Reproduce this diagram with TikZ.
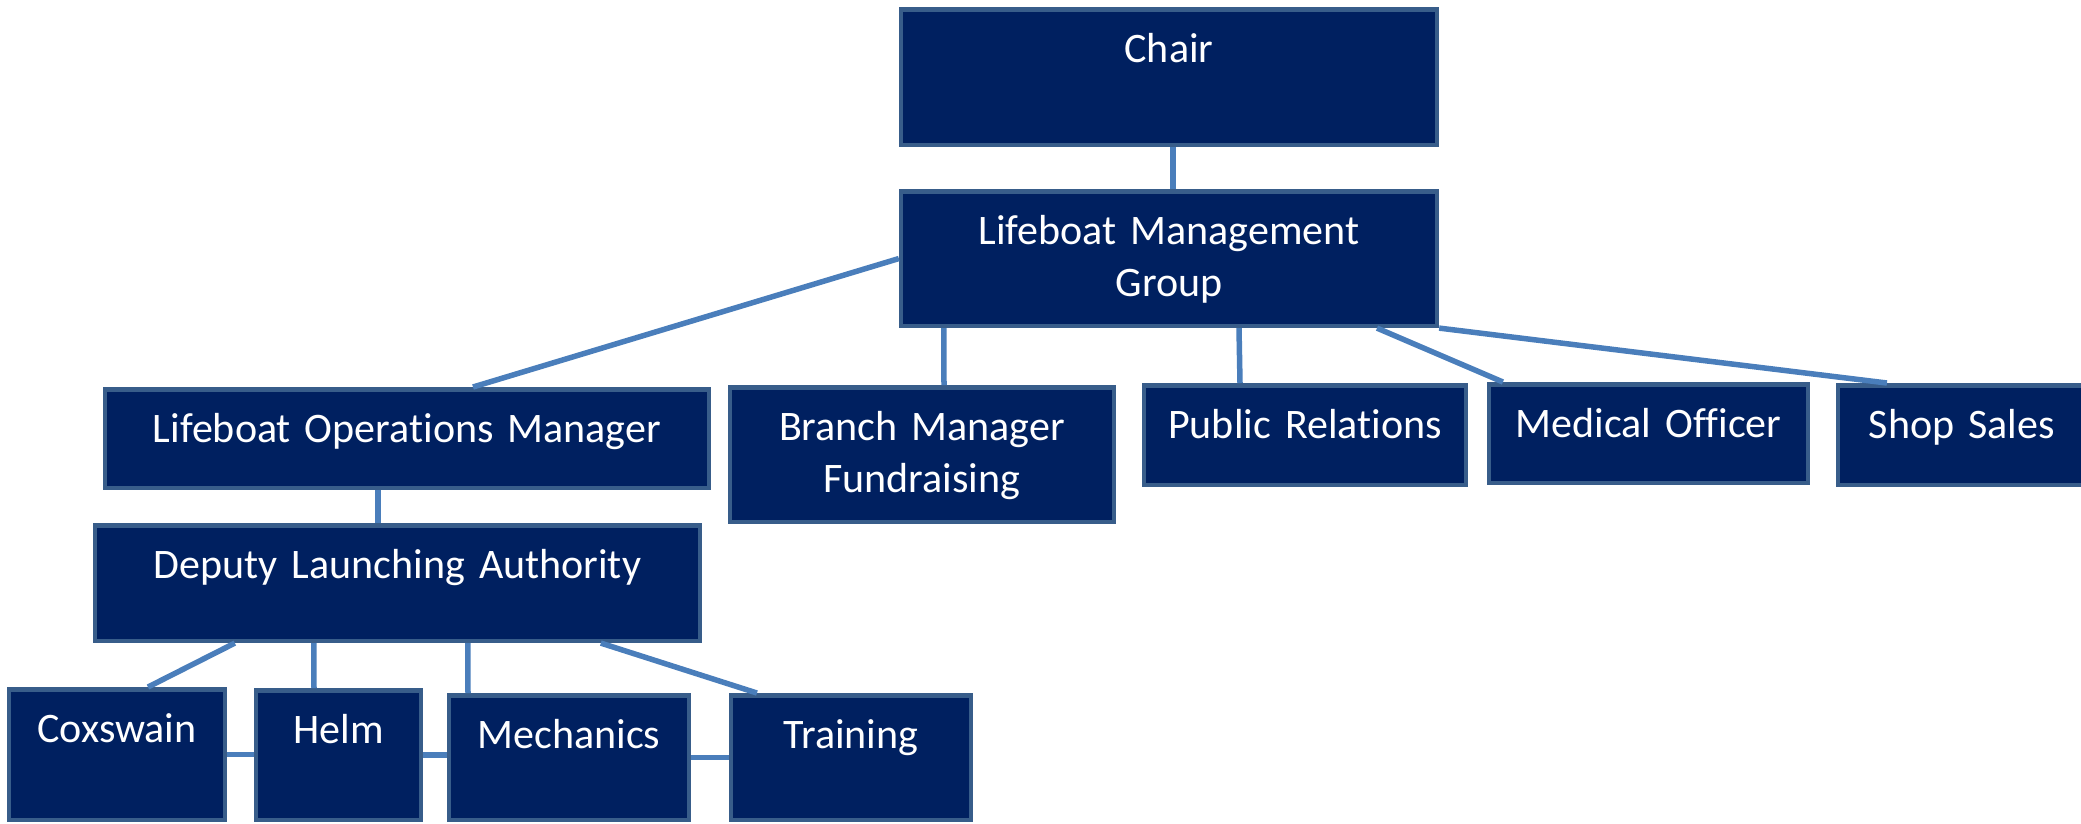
\documentclass[tikz,border=0pt]{standalone}
\usepackage{fontspec}
\setmainfont{Carlito}[Ligatures=NoCommon]
\usetikzlibrary{calc}
\definecolor{unitfill}{RGB}{0,32,96}
\definecolor{unitedge}{RGB}{56,93,138}
\definecolor{linkblue}{RGB}{74,126,187}
\tikzset{
	unit/.style 2 args={draw=unitedge, line width=0.45mm, fill=unitfill, text=white,
		anchor=north, inner sep=0pt, align=center, text width=#1cm,
		text height=0.5275cm, text depth=#2cm,
		font=\fontsize{11.95pt}{14.8pt}\selectfont},
	link/.style={draw=linkblue, line width=0.55mm}
}

\begin{document}
\begin{tikzpicture}[x=0.01cm, y=-0.01cm]
			%%%%% START %%%%%
			\useasboundingbox (0, 0) rectangle (2081, 823);
			
			\node[unit={5.355}{0.8275}] (chair) at (1169, 7) {Chair};
			\node[unit={5.355}{0.8175}] (lmg) at (1169, 189) {Lifeboat Management\\Group};
			
			\node[unit={6.035}{0.4575}] (lom) at (407, 387) {Lifeboat Operations Manager};
			\node[unit={3.835}{0.8175}] (bmf) at (922, 385) {Branch Manager\\Fundraising};
			\node[unit={3.215}{0.4675}] (pr) at (1305, 383) {Public Relations};
			\node[unit={3.185}{0.4575}] (mo) at (1648.5, 382) {Medical Officer};
			\node[unit={2.475}{0.4675}] (shop) at (1962, 383) {Shop Sales};
			
			\node[unit={6.045}{0.6275}] (dla) at (397.5, 523) {Deputy Launching Authority};
			
			\node[unit={2.155}{0.7775}] (cox) at (117, 687) {Coxswain};
			\node[unit={1.645}{0.7675}] (helm) at (338.5, 688) {Helm};
			\node[unit={2.395}{0.7175}] (mech) at (569, 693) {Mechanics};
			\node[unit={2.395}{0.7175}] (train) at (851, 693) {Training};
			
			\draw[link] ($(chair.south)+(4, 0)$) -- ($(lmg.north)+(4, 0)$);
			
			\draw[link] (lmg.west) -- ($(lom.north)+(66, 0)$);
			\draw[link] ($(lmg.south west)+(45, 0)$) -- ($(bmf.north)+(22, 0)$);
			\draw[link] ($(lmg.south)+(70, 0)$) -- ($(pr.north)+(-65, 0)$);
			\draw[link] ($(lmg.south)+(208, 0)$) -- ($(mo.north west)+(16, 0)$);
			\draw[link] (lmg.south east) -- ($(shop.north west)+(51, 0)$);
			
			\draw[link] ($(lom.south)+(-29, 0)$) -- ($(dla.north)+(-19.5, 0)$);
			
			\draw[link] ($(dla.south west)+(142, 0)$) -- ($(cox.north)+(31, 0)$);
			\draw[link] ($(dla.south west)+(221, 0)$) -- ($(helm.north)+(-24.5, 0)$);
			\draw[link] ($(dla.south west)+(375, 0)$) -- ($(mech.north)+(-101, 0)$);
			\draw[link] ($(dla.south west)+(508, 0)$) -- ($(train.north west)+(28, 0)$);
			
			\draw[link] (cox.east) -- (cox.east -| helm.west);
			\draw[link] (helm.east) -- (helm.east -| mech.west);
			\draw[link] (mech.east) -- (mech.east -| train.west);
			%%%%% END %%%%%
\end{tikzpicture}
\end{document}
